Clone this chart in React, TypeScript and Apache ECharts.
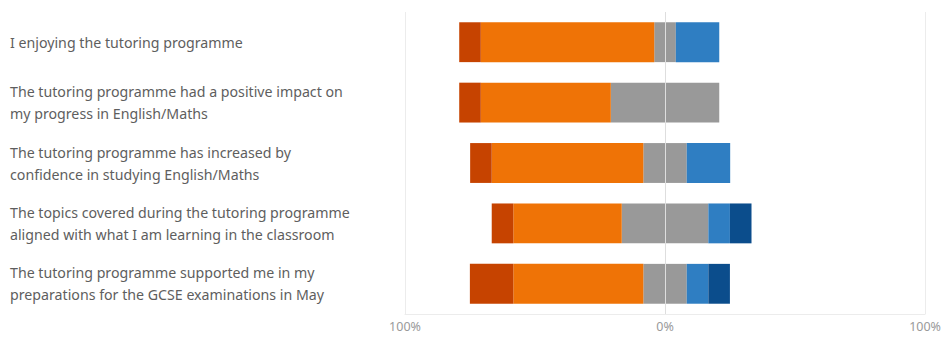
import React, { useEffect, useRef } from "react";
import * as echarts from "echarts";

const categories = [
  "I enjoying the tutoring programme",
  "The tutoring programme had a positive impact on\nmy progress in English/Maths",
  "The tutoring programme has increased by\nconfidence in studying English/Maths",
  "The topics covered during the tutoring programme\naligned with what I am learning in the classroom",
  "The tutoring programme supported me in my\npreparations for the GCSE examinations in May",
];

const stronglyDisagree = [8.3, 8.3, 8.3, 8.3, 16.7];
const disagree = [66.7, 50, 58.3, 41.7, 50];
const neutral = [8.3, 41.7, 16.7, 33.3, 16.7];
const agree = [16.7, 0, 16.7, 8.3, 8.3];
const stronglyAgree = [0, 0, 0, 8.3, 8.3];

const xTicks = [-100, 0, 100];

const COLORS = {
  sd: "#C64300",
  d: "#EF7306",
  n: "#999999",
  a: "#2F7EC2",
  sa: "#0B4D8C",
};

export default function App() {
  const ref = useRef<HTMLDivElement>(null);

  useEffect(() => {
    if (!ref.current) return;
    const chart = echarts.init(ref.current, undefined, { renderer: "svg" });
    const rev = <T,>(a: T[]) => a.slice().reverse();
    const cats = rev(categories);
    const bar = (name: string, data: number[], color: string, extra: any = {}) => ({
      name,
      type: "bar",
      stack: "total",
      barWidth: "66%",
      data: rev(data),
      itemStyle: { color },
      silent: true,
      ...extra,
    });
    chart.setOption({
      animation: false,
      grid: { left: 405, right: 13, top: 12, bottom: 24, containLabel: false },
      xAxis: {
        type: "value",
        min: -100,
        max: 100,
        interval: 100,
        axisLine: { show: true, lineStyle: { color: "#ececec", width: 1 } },
        axisTick: { show: false },
        splitLine: { show: true, lineStyle: { color: "#ececec", width: 1 } },
        axisLabel: {
          color: "#9a9a9a",
          fontSize: 12.5,
          fontFamily: "Noto Sans",
          margin: 6,
          formatter: (v: number) => (xTicks.includes(v) ? Math.abs(v) + "%" : ""),
        },
      },
      yAxis: {
        type: "category",
        data: cats,
        axisLine: { show: false },
        axisTick: { show: false },
        splitLine: { show: false },
        axisLabel: {
          align: "left",
          margin: 395,
          color: "#5e5e5e",
          fontSize: 14.2,
          lineHeight: 22,
          fontFamily: "Noto Sans",
        },
      },
      series: [
        bar("Neutral (left)", neutral.map((v) => -v / 2), COLORS.n, {
          markLine: {
            silent: true,
            symbol: "none",
            label: { show: false },
            lineStyle: { color: "#dedede", width: 1, type: "solid" },
            data: [{ xAxis: 0 }],
          },
        }),
        bar("Disagree", disagree.map((v) => -v), COLORS.d),
        bar("Strongly disagree", stronglyDisagree.map((v) => -v), COLORS.sd),
        bar("Neutral (right)", neutral.map((v) => v / 2), COLORS.n),
        bar("Agree", agree, COLORS.a),
        bar("Strongly agree", stronglyAgree, COLORS.sa),
      ],
    });
    return () => chart.dispose();
  }, []);

  return (
    <div
      ref={ref}
      style={{ position: "absolute", left: 0, top: 0, width: 944, height: 338 }}
    />
  );
}
